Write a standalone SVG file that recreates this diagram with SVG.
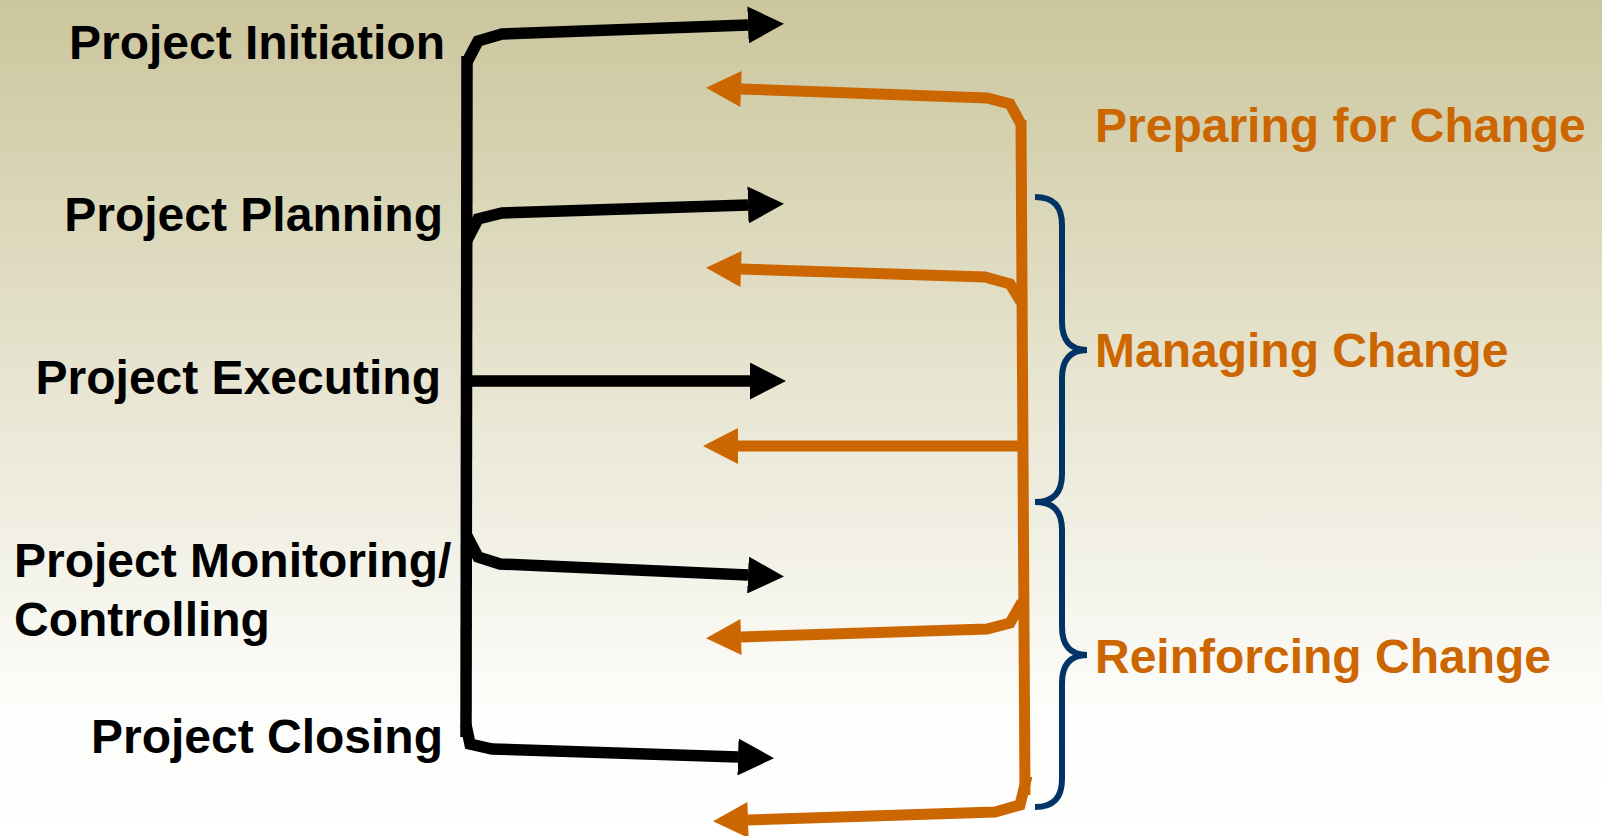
<svg xmlns="http://www.w3.org/2000/svg" width="1602" height="836" viewBox="0 0 1602 836">
  <defs>
    <linearGradient id="bg" x1="0" y1="0" x2="0" y2="1">
      <stop offset="0" stop-color="#cbc69c"/>
      <stop offset="0.45" stop-color="#e7e4d0"/>
      <stop offset="0.85" stop-color="#fdfdfb"/>
      <stop offset="1" stop-color="#ffffff"/>
    </linearGradient>
    <marker id="ahB" markerUnits="userSpaceOnUse" markerWidth="36" markerHeight="37" viewBox="0 0 36 37" refX="0" refY="18.5" orient="auto">
      <path d="M0,0 L36,18.5 L0,37 z" fill="#000"/>
    </marker>
    <marker id="ahO" markerUnits="userSpaceOnUse" markerWidth="36" markerHeight="36" viewBox="0 0 35 36" refX="0" refY="18" orient="auto">
      <path d="M0,0 L35,18 L0,36 z" fill="#cc6600"/>
    </marker>
  </defs>
  <style>
    .lbl { font-family: "Liberation Sans", Arial, sans-serif; font-weight: bold; font-size: 48px; fill: #000; }
    .phase { font-family: "Liberation Sans", Arial, sans-serif; font-weight: bold; font-size: 48px; fill: #cc6600; }
    .blk { fill: none; stroke: #000; stroke-width: 11.5; stroke-linejoin: miter; }
    .org { fill: none; stroke: #cc6600; stroke-width: 11; stroke-linejoin: miter; }
    .brace { fill: none; stroke: #003366; stroke-width: 6; stroke-linecap: butt; }
  </style>
  <rect x="0" y="0" width="1602" height="836" fill="url(#bg)"/>

  <g id="connectors">
    <path class="blk" d="M467,56 L466,737"/>
    <path class="blk" d="M467,62 L478,41 L502,34 L748,25" marker-end="url(#ahB)"/>
    <path class="blk" d="M467,240 L478,219 L502,213 L748,205" marker-end="url(#ahB)"/>
    <path class="blk" d="M467,381 L750,381" marker-end="url(#ahB)"/>
    <path class="blk" d="M467,536 L478,557 L500,564 L748,575" marker-end="url(#ahB)"/>
    <path class="blk" d="M466,725 L470,744 L492,749 L738,757" marker-end="url(#ahB)"/>

    <path class="org" d="M1021,120 L1025,795"/>
    <path class="org" d="M1021,124 L1010,104 L987,98 L741,89" marker-end="url(#ahO)"/>
    <path class="org" d="M1021,302 L1010,284 L985,277 L741,269" marker-end="url(#ahO)"/>
    <path class="org" d="M1021,446 L738,446" marker-end="url(#ahO)"/>
    <path class="org" d="M1022,602 L1010,623 L987,629 L741,637" marker-end="url(#ahO)"/>
    <path class="org" d="M1027,776 L1020,805 L995,812 L748,820" marker-end="url(#ahO)"/>
  </g>

  <g id="brace-managing">
    <path class="brace" d="M1035,197 C1054,197 1062,207 1062,225 L1062,322 C1062,340 1070,350 1087,350 C1070,350 1062,360 1062,378 L1062,474 C1062,492 1054,502 1035,502"/>
  </g>
  <g id="brace-reinforcing">
    <path class="brace" d="M1035,502 C1054,502 1062,512 1062,530 L1062,627 C1062,645 1070,655 1087,655 C1070,655 1062,665 1062,683 L1062,779 C1062,797 1054,807 1035,807"/>
  </g>

  <g id="node-initiation"><text class="lbl" x="445" y="59" text-anchor="end">Project Initiation</text></g>
  <g id="node-planning"><text class="lbl" x="443" y="231" text-anchor="end">Project Planning</text></g>
  <g id="node-executing"><text class="lbl" x="441" y="394" text-anchor="end">Project Executing</text></g>
  <g id="node-monitoring"><text class="lbl" x="14" y="577">Project Monitoring/</text><text class="lbl" x="14" y="636">Controlling</text></g>
  <g id="node-closing"><text class="lbl" x="443" y="753" text-anchor="end">Project Closing</text></g>

  <g id="phase-preparing"><text class="phase" x="1095" y="142">Preparing for Change</text></g>
  <g id="phase-managing"><text class="phase" x="1095" y="367">Managing Change</text></g>
  <g id="phase-reinforcing"><text class="phase" x="1095" y="673">Reinforcing Change</text></g>
</svg>
